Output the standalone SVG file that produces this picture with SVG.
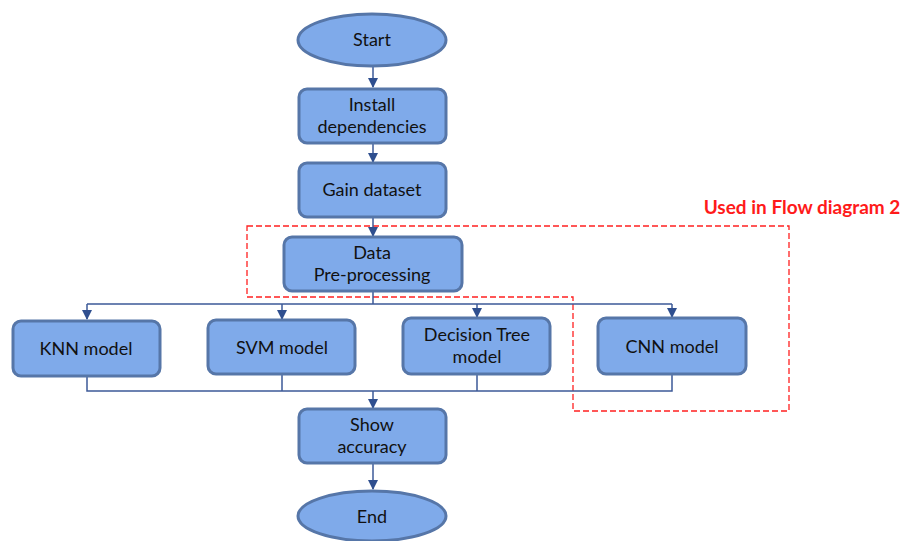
<svg xmlns="http://www.w3.org/2000/svg" width="904" height="541" viewBox="0 0 904 541">
<defs>
<marker id="arr" markerWidth="10" markerHeight="10" refX="9" refY="5" orient="auto" markerUnits="userSpaceOnUse">
<path d="M0,0 L10,5 L0,10 z" fill="#2F4F8F"/>
</marker>
<style>
.n{fill:#7FAAEA;stroke:#5676A8;stroke-width:3}
.t{font-family:Lato,"Open Sans",sans-serif;font-size:18px;fill:#111;text-anchor:middle}
.c{fill:none;stroke:#3D5A98;stroke-width:1.5}
</style>
</defs>
<rect width="904" height="541" fill="#fff"/>
<g id="region">
<path d="M247,226 H789 V411 H573 V297 H247 Z" fill="none" stroke="#FF2020" stroke-width="1.3" stroke-dasharray="6,3"/>
<text x="802" y="214" font-family="Lato,'Open Sans',sans-serif" font-size="19" font-weight="bold" fill="#FF1A1A" text-anchor="middle">Used in Flow diagram 2</text>
</g>
<g id="connectors">
<path class="c" d="M373,66 V87" marker-end="url(#arr)"/>
<path class="c" d="M373,143 V162" marker-end="url(#arr)"/>
<path class="c" d="M373,217 V236" marker-end="url(#arr)"/>
<path class="c" d="M373,291 V304 M87,304 H672"/>
<path class="c" d="M87,304 V319" marker-end="url(#arr)"/>
<path class="c" d="M282,304 V319" marker-end="url(#arr)"/>
<path class="c" d="M477,304 V317" marker-end="url(#arr)"/>
<path class="c" d="M672,304 V317" marker-end="url(#arr)"/>
<path class="c" d="M87,376 V391 H672 V374 M282,374 V391 M477,375 V391"/>
<path class="c" d="M373,391 V408" marker-end="url(#arr)"/>
<path class="c" d="M373,463 V489" marker-end="url(#arr)"/>
</g>
<g id="start">
<ellipse class="n" cx="372" cy="40" rx="74" ry="26"/>
<text class="t" x="372" y="46">Start</text>
</g>
<g id="install">
<rect class="n" x="299" y="89" width="147" height="54" rx="8"/>
<text class="t" x="372" y="111">Install</text>
<text class="t" x="372" y="133">dependencies</text>
</g>
<g id="gain">
<rect class="n" x="299" y="163" width="147" height="54" rx="8"/>
<text class="t" x="372" y="196">Gain dataset</text>
</g>
<g id="preprocess">
<rect class="n" x="284" y="237" width="178" height="54" rx="8"/>
<text class="t" x="372" y="259">Data</text>
<text class="t" x="372" y="281">Pre-processing</text>
</g>
<g id="knn">
<rect class="n" x="13" y="321" width="147" height="55" rx="8"/>
<text class="t" x="86" y="355">KNN model</text>
</g>
<g id="svm">
<rect class="n" x="208" y="320" width="147" height="54" rx="8"/>
<text class="t" x="282" y="354">SVM model</text>
</g>
<g id="dt">
<rect class="n" x="403" y="318" width="147" height="56" rx="8"/>
<text class="t" x="477" y="341">Decision Tree</text>
<text class="t" x="477" y="363">model</text>
</g>
<g id="cnn">
<rect class="n" x="598" y="318" width="148" height="56" rx="8"/>
<text class="t" x="672" y="353">CNN model</text>
</g>
<g id="show">
<rect class="n" x="299" y="409" width="147" height="54" rx="8"/>
<text class="t" x="372" y="431">Show</text>
<text class="t" x="372" y="453">accuracy</text>
</g>
<g id="end">
<ellipse class="n" cx="372" cy="516" rx="74" ry="25"/>
<text class="t" x="372" y="523">End</text>
</g>
</svg>
